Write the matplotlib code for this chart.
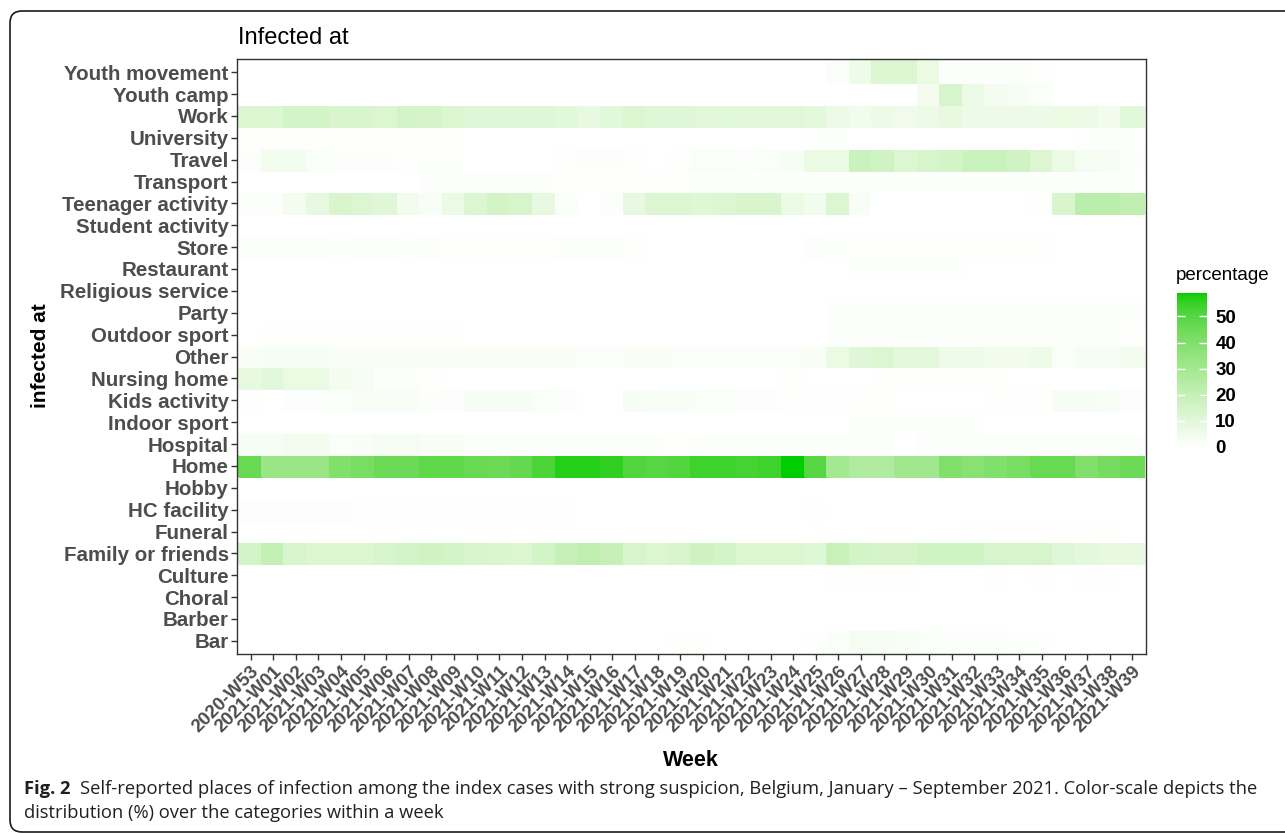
import numpy as np
import matplotlib
matplotlib.use("Agg")
import matplotlib.pyplot as plt
from matplotlib.colors import ListedColormap, to_rgb
from matplotlib.patches import FancyBboxPatch
from matplotlib import font_manager

plt.rcParams["font.family"] = ["Liberation Sans", "DejaVu Sans"]

weeks = ["2020-W53"] + ["2021-W%02d" % i for i in range(1, 40)]

# places, bottom row first (as ggplot draws a discrete y axis)
places = ["Bar", "Barber", "Choral", "Culture", "Family or friends", "Funeral",
          "HC facility", "Hobby", "Home", "Hospital", "Indoor sport",
          "Kids activity", "Nursing home", "Other", "Outdoor sport", "Party",
          "Religious service", "Restaurant", "Store", "Student activity",
          "Teenager activity", "Transport", "Travel", "University", "Work",
          "Youth camp", "Youth movement"]

# percentage per week (2020-W53 ... 2021-W39)
bar = [0.1, 0.1, 0.1, 0.1, 0.1, 0.1, 0.1, 0.1, 0.1, 0.1, 0.1, 0.1, 0.1, 0.1, 0.1, 0.1, 0.1, 0.1, 0.1, 0.5,
       0.5, 0.2, 0.2, 0.2, 0.2, 0.8, 2, 3.5, 3, 2.5, 2, 1, 1, 1, 0.8, 0.8, 0.3, 0.3, 0.3, 0.3]
barber = [0, 0, 0, 0, 0, 0, 0, 0, 0, 0, 0, 0, 0, 0, 0, 0, 0, 0, 0, 0,
          0, 0, 0, 0, 0, 0, 0, 0, 0, 0, 0, 0, 0, 0, 0, 0, 0, 0, 0, 0]
choral = [0, 0, 0, 0, 0, 0, 0, 0, 0, 0, 0, 0, 0, 0, 0, 0, 0, 0, 0, 0,
          0, 0, 0, 0, 0, 0, 0, 0, 0, 0, 0, 0, 0, 0, 0, 0, 0, 0, 0, 0]
culture = [0, 0, 0, 0, 0, 0, 0, 0, 0, 0, 0, 0, 0, 0, 0, 0, 0, 0, 0, 0,
           0, 0, 0, 0, 0, 0, 0.5, 0.5, 0.5, 0.5, 0, 0, 0, 0.5, 0, 0.5, 0, 0.5, 0.5, 0]
family = [15.5, 20.5, 14, 12.5, 12.5, 12.5, 14, 15, 16.5, 15, 14, 13, 12.5, 15, 19.5, 21, 19.5, 14, 12.5, 13.5,
          17, 15, 12.5, 12.5, 12.5, 11.5, 19, 15.5, 14.5, 14.5, 16, 16, 16, 14, 14, 14, 11, 9.5, 8.5, 8.5]
funeral = [0, 0, 0, 0, 0, 0, 0, 0, 0, 0, 0, 0, 0, 0, 0, 0, 0, 0, 0, 0,
           0, 0, 0, 0, 0, 0, 0, 0, 0, 0, 0, 0, 0.5, 0.5, 0.5, 0.5, 0.5, 0.5, 0.5, 0]
hc_facility = [1, 1, 1, 1, 1, 0.7, 0.7, 0.7, 0.7, 0.7, 0.7, 0.7, 0.7, 0.5, 0.5, 0.3, 0.2, 0.2, 0.2, 0.3,
               0.3, 0.2, 0.2, 0.2, 0.2, 0.5, 0.2, 0.2, 0.2, 0.2, 0.2, 0.2, 0.2, 0.2, 0.2, 0.2, 0.2, 0.2, 0.2, 0.2]
hobby = [0.1, 0.1, 0.1, 0.1, 0.1, 0.1, 0.1, 0.1, 0.1, 0.1, 0.1, 0.1, 0.1, 0.1, 0.1, 0.1, 0.1, 0.1, 0.1, 0.1,
         0, 0, 0, 0, 0, 0, 0, 0, 0, 0, 0.2, 0.2, 0.2, 0, 0, 0, 0, 0, 0, 0]
home = [46, 33, 33, 33, 40, 42, 45, 45, 48, 48, 46, 45, 47, 52, 57, 57, 56, 51, 50, 51,
        54, 54, 53, 54, 59, 50, 30, 26, 26, 31, 31, 40, 38, 40, 42, 46, 46, 40, 43, 45]
hospital = [3, 3, 4.5, 4.5, 2, 2.5, 3.5, 3.5, 2.5, 2.5, 1.5, 1, 1, 1, 1, 1, 1.5, 1.5, 1, 0.5,
            1, 1, 1, 1, 1, 1, 1, 1, 1, 0, 1, 1, 1, 1, 1, 1, 1, 1, 1, 1]
indoor_sport = [0.3, 0.3, 0.3, 0.3, 0.3, 0.3, 0.3, 0.3, 0.3, 0.3, 0.3, 0.3, 0.3, 0.3, 0.3, 0.3, 0.3, 0.3, 0.3, 0.3,
                0.3, 0.3, 0.3, 0.3, 0.3, 0.3, 0.3, 0.8, 0.8, 0.8, 0.8, 0.8, 0.8, 0.3, 0.3, 0.3, 0.3, 0.3, 0.3, 0.3]
kids_activity = [0.5, 0, 1, 1.5, 2, 2.5, 2.5, 2.5, 1, 1.5, 3, 3, 3, 2, 1, 0.3, 0, 3, 2.5, 2.5,
                 2, 2, 1.5, 1, 0.7, 0.7, 0.7, 0.5, 0.5, 0, 0, 0, 0, 0.5, 0.5, 0.5, 3, 3, 2.5, 1.5]
nursing_home = [8.5, 10, 7.5, 7.5, 4.5, 3, 1, 1, 0.5, 0.3, 0.1, 0.1, 0.1, 0.1, 0.1, 0.1, 0.1, 0.1, 0.1, 0.1,
                0.1, 0.1, 0.1, 0.1, 0.5, 0.1, 0.1, 0.1, 0.5, 0.5, 0.5, 0.5, 0.5, 0.5, 0.1, 0.1, 0.1, 0.1, 0.1, 0.1]
other = [2.5, 3, 3, 3, 2.5, 2.5, 2.5, 2.5, 2.5, 2.5, 2.5, 2.5, 2.5, 2.5, 2.5, 2, 2, 2.5, 2.5, 2,
         2, 2, 2, 2, 2, 2.5, 7.5, 11, 12.5, 9.5, 9.5, 6, 6, 5, 5, 6, 2, 3, 3, 4.5]
outdoor_sport = [0.2, 0.5, 0.5, 0.5, 0.5, 0.5, 0.5, 0.5, 0.5, 0.5, 0.3, 0.3, 0.3, 0.3, 0.3, 0.3, 0.3, 0.3, 0.3, 0.3,
                 0.3, 0.3, 0.3, 0.3, 0.3, 0.3, 1, 1, 1, 1, 1, 1, 1, 1, 1, 1, 1, 1, 1, 0.5]
party = [0.2, 0.2, 0.2, 0.2, 0.2, 0.2, 0.2, 0.2, 0.2, 0.2, 0.2, 0.2, 0.2, 0.2, 0.2, 0.2, 0.2, 0.2, 0.2, 0.2,
         0.2, 0.2, 0.2, 0.2, 0.2, 0.2, 1, 1, 1, 1, 1, 1, 1, 1, 1, 1, 1, 1, 1, 1]
religious = [0, 0, 0, 0, 0, 0, 0, 0, 0, 0, 0, 0, 0, 0, 0, 0, 0, 0, 0, 0,
             0, 0, 0, 0, 0, 0, 0, 0, 0, 0, 0, 0, 0, 0, 0, 0, 0, 0, 0, 0]
restaurant = [0.3, 0.3, 0.3, 0.3, 0.3, 0.3, 0.3, 0.3, 0.3, 0.3, 0.3, 0.3, 0.3, 0.3, 0.3, 0.3, 0.3, 0.3, 0.3, 0.3,
              0.3, 0.3, 0.3, 0.3, 0.3, 0.3, 0.3, 0.8, 0.8, 0.8, 0.8, 0.8, 0.3, 0.3, 0.3, 0.3, 0.3, 0.3, 0.3, 0.3]
store = [1, 1, 1.2, 1.2, 0.8, 1, 1, 0.8, 1, 0.5, 0.5, 0.5, 0.5, 0.5, 1, 1, 1, 0.5, 0.3, 0.3,
         0.3, 0.3, 0.3, 0.3, 0.3, 1, 0.8, 0.5, 0.5, 0.5, 0.5, 0.5, 0.5, 0.5, 0.5, 0.5, 0.3, 0.2, 0.2, 0.2]
student_activity = [0.1, 0.1, 0.1, 0.1, 0.1, 0.1, 0.1, 0.1, 0.1, 0.1, 0.1, 0.1, 0.1, 0.1, 0.1, 0.1, 0.1, 0.1, 0.1, 0.1,
                    0, 0, 0, 0, 0, 0, 0, 0, 0, 0, 0, 0, 0, 0, 0, 0, 0, 0, 0, 0]
teenager_activity = [1.5, 1, 4, 8.5, 13.5, 12, 11, 5, 2.5, 7.5, 12.5, 15.5, 14, 8.5, 2, 0, 1, 8.5, 12, 12.5,
                     11.5, 12.5, 13.5, 13.5, 7.5, 5, 12, 2.5, 0, 0, 0, 0, 0, 0, 0, 0.5, 13.5, 23, 23, 21]
transport = [0.2, 0.2, 0.2, 0.2, 0.2, 0.2, 0.2, 0.2, 1, 1, 1, 1, 1, 1, 0.5, 0.5, 0.5, 0.5, 0.5, 0.5,
             0.8, 0.8, 0.8, 0.8, 0.8, 0.8, 0.8, 0.8, 0.8, 0.8, 0.8, 0.8, 0.8, 0.8, 0.8, 0.8, 0.8, 0.8, 0.8, 0.8]
travel = [1.5, 4.5, 4.5, 2, 1, 1, 1, 0.8, 0.8, 0.7, 0.2, 0.2, 0.2, 0.2, 0.5, 1, 1, 0.7, 0.3, 0.8,
          2, 2, 1, 2, 3, 7.5, 7.5, 18, 16, 12.5, 14, 15, 18, 18, 16.5, 12.5, 7.5, 3.5, 3, 1.5]
university = [0.5, 0.5, 0.5, 0.5, 0.5, 0.5, 0.5, 0.5, 0.5, 0.5, 0.2, 0.2, 0.2, 0.2, 0.2, 0.2, 0.2, 0.2, 0.2, 0.2,
              0.2, 0.2, 0.2, 0.2, 0.2, 0.8, 0.8, 0.2, 0.2, 0.2, 0.2, 0.2, 0.2, 0.2, 0.2, 0.2, 0.2, 0.8, 0.8, 0.8]
work = [12.5, 12, 15, 15, 13.5, 13.5, 12.5, 15, 14.5, 12, 11, 11, 11, 11, 10, 8, 10, 12, 11, 11,
        10.5, 10, 10.5, 10.5, 10.5, 9.5, 6.5, 5, 6.5, 5.5, 6.5, 8, 6.5, 6.5, 6.5, 6.5, 7.5, 6.5, 5, 10]
youth_camp = [0, 0, 0, 0, 0, 0, 0, 0, 0, 0, 0, 0, 0, 0, 0, 0, 0, 0, 0, 0,
              0, 0, 0, 0, 0, 0, 0, 0, 0, 0, 4, 14, 7, 4, 3, 2, 0.3, 0.3, 0.3, 0.3]
youth_movement = [0, 0, 0, 0, 0, 0, 0, 0, 0, 0, 0, 0, 0, 0, 0, 0, 0, 0, 0, 0,
                  0, 0, 0, 0, 0, 0, 2, 6, 12, 12, 7.5, 1.5, 1, 1, 1, 0.5, 0, 0, 0, 0]

values = np.array([bar, barber, choral, culture, family, funeral, hc_facility, hobby,
                   home, hospital, indoor_sport, kids_activity, nursing_home, other,
                   outdoor_sport, party, religious, restaurant, store, student_activity,
                   teenager_activity, transport, travel, university, work, youth_camp,
                   youth_movement])


# white -> green3 gradient interpolated in CIELAB, like scale_fill_gradient
M = np.array([[0.4124, 0.3576, 0.1805], [0.2126, 0.7152, 0.0722], [0.0193, 0.1192, 0.9505]])
WHITE = np.array([0.95047, 1.0, 1.08883])


def to_lab(c):
    c = np.asarray(c, float)
    lin = np.where(c <= 0.04045, c / 12.92, ((c + 0.055) / 1.055) ** 2.4)
    xyz = M @ lin / WHITE
    f = np.where(xyz > 0.008856, np.cbrt(xyz), 7.787 * xyz + 16 / 116)
    return np.array([116 * f[1] - 16, 500 * (f[0] - f[1]), 200 * (f[1] - f[2])])


def from_lab(lab):
    L, a, b = lab
    fy = (L + 16) / 116
    f = np.array([fy + a / 500, fy, fy - b / 200])
    xyz = np.where(f ** 3 > 0.008856, f ** 3, (f - 16 / 116) / 7.787) * WHITE
    lin = np.clip(np.linalg.solve(M, xyz), 0, 1)
    c = np.where(lin <= 0.0031308, 12.92 * lin, 1.055 * lin ** (1 / 2.4) - 0.055)
    return np.clip(c, 0, 1)


lo, hi = to_lab(to_rgb("#FFFFFF")), to_lab(to_rgb("#00CD00"))
cmap = ListedColormap([from_lab(lo + (hi - lo) * t) for t in np.linspace(0, 1, 256)])

fig = plt.figure(figsize=(12.85, 8.33), dpi=100)

# frame + caption layer in pixel coordinates
bg = fig.add_axes([0, 0, 1, 1], zorder=-1)
bg.set_xlim(0, 1285)
bg.set_ylim(833, 0)
bg.axis("off")
bg.add_patch(FancyBboxPatch((10, 11), 1400, 821, boxstyle="round,pad=0,rounding_size=12",
                            fill=False, ec="#1a1a1a", lw=1.2))

names = {f.name for f in font_manager.fontManager.ttflist}
cap_font = "Liberation Sans Narrow" if "Liberation Sans Narrow" in names else "Open Sans"
cap_size = 14.5 if cap_font == "Liberation Sans Narrow" else 13.2
bg.text(24, 794, "Fig. 2", fontsize=cap_size, fontweight="bold", family=cap_font,
        color="#231f20", va="baseline")
bg.text(80, 794, "Self-reported places of infection among the index cases with strong suspicion, "
        "Belgium, January \u2013 September 2021. Color-scale depicts the",
        fontsize=cap_size, family=cap_font, color="#231f20", va="baseline")
bg.text(24, 818, "distribution (%) over the categories within a week",
        fontsize=cap_size, family=cap_font, color="#231f20", va="baseline")

ax = fig.add_axes([237 / 1285, 1 - 654 / 833, (1146 - 237) / 1285, (654 - 59) / 833])
ax.set_facecolor("white")
mesh = ax.pcolormesh(np.arange(len(weeks) + 1) - 0.5, np.arange(len(places) + 1) - 0.5, values,
                     cmap=cmap, vmin=0, vmax=values.max(), edgecolor="face", linewidth=0.2)
ax.set_xlim(-0.6, len(weeks) - 0.4)
ax.set_ylim(-0.6, len(places) - 0.4)
ax.set_xticks(range(len(weeks)))
ax.set_xticklabels(weeks, rotation=45, ha="right", va="top", rotation_mode="anchor",
                   fontsize=13.5, fontweight="bold", color="#4d4d4d")
ax.set_yticks(range(len(places)))
ax.set_yticklabels(places, fontsize=14.8, fontweight="bold", color="#4d4d4d")
ax.tick_params(length=4, width=1, color="#333333", pad=2)
for s in ax.spines.values():
    s.set_color("#333333")
    s.set_linewidth(1)

fig.text(238 / 1285, 1 - 44 / 833, "Infected at", fontsize=17, va="baseline")
fig.text(691 / 1285, 1 - 760 / 833, "Week", fontsize=15.5, fontweight="bold", ha="center", va="center")
fig.text(40 / 1285, 1 - 356 / 833, "infected at", fontsize=15, fontweight="bold",
         rotation=90, ha="center", va="center")

# colour bar
cax = fig.add_axes([1177 / 1285, 1 - 447 / 833, 30 / 1285, (447 - 293) / 833])
cb = fig.colorbar(mesh, cax=cax, ticks=[0, 10, 20, 30, 40, 50])
cb.outline.set_visible(False)
cax.tick_params(direction="in", length=6, width=1, color="white", left=True, right=True,
                labelsize=13.5, pad=6)
for lbl in cax.get_yticklabels():
    lbl.set_fontweight("bold")
fig.text(1176 / 1285, 1 - 276 / 833, "percentage", fontsize=13.5, va="center")

fig.savefig("out.png", dpi=100)
